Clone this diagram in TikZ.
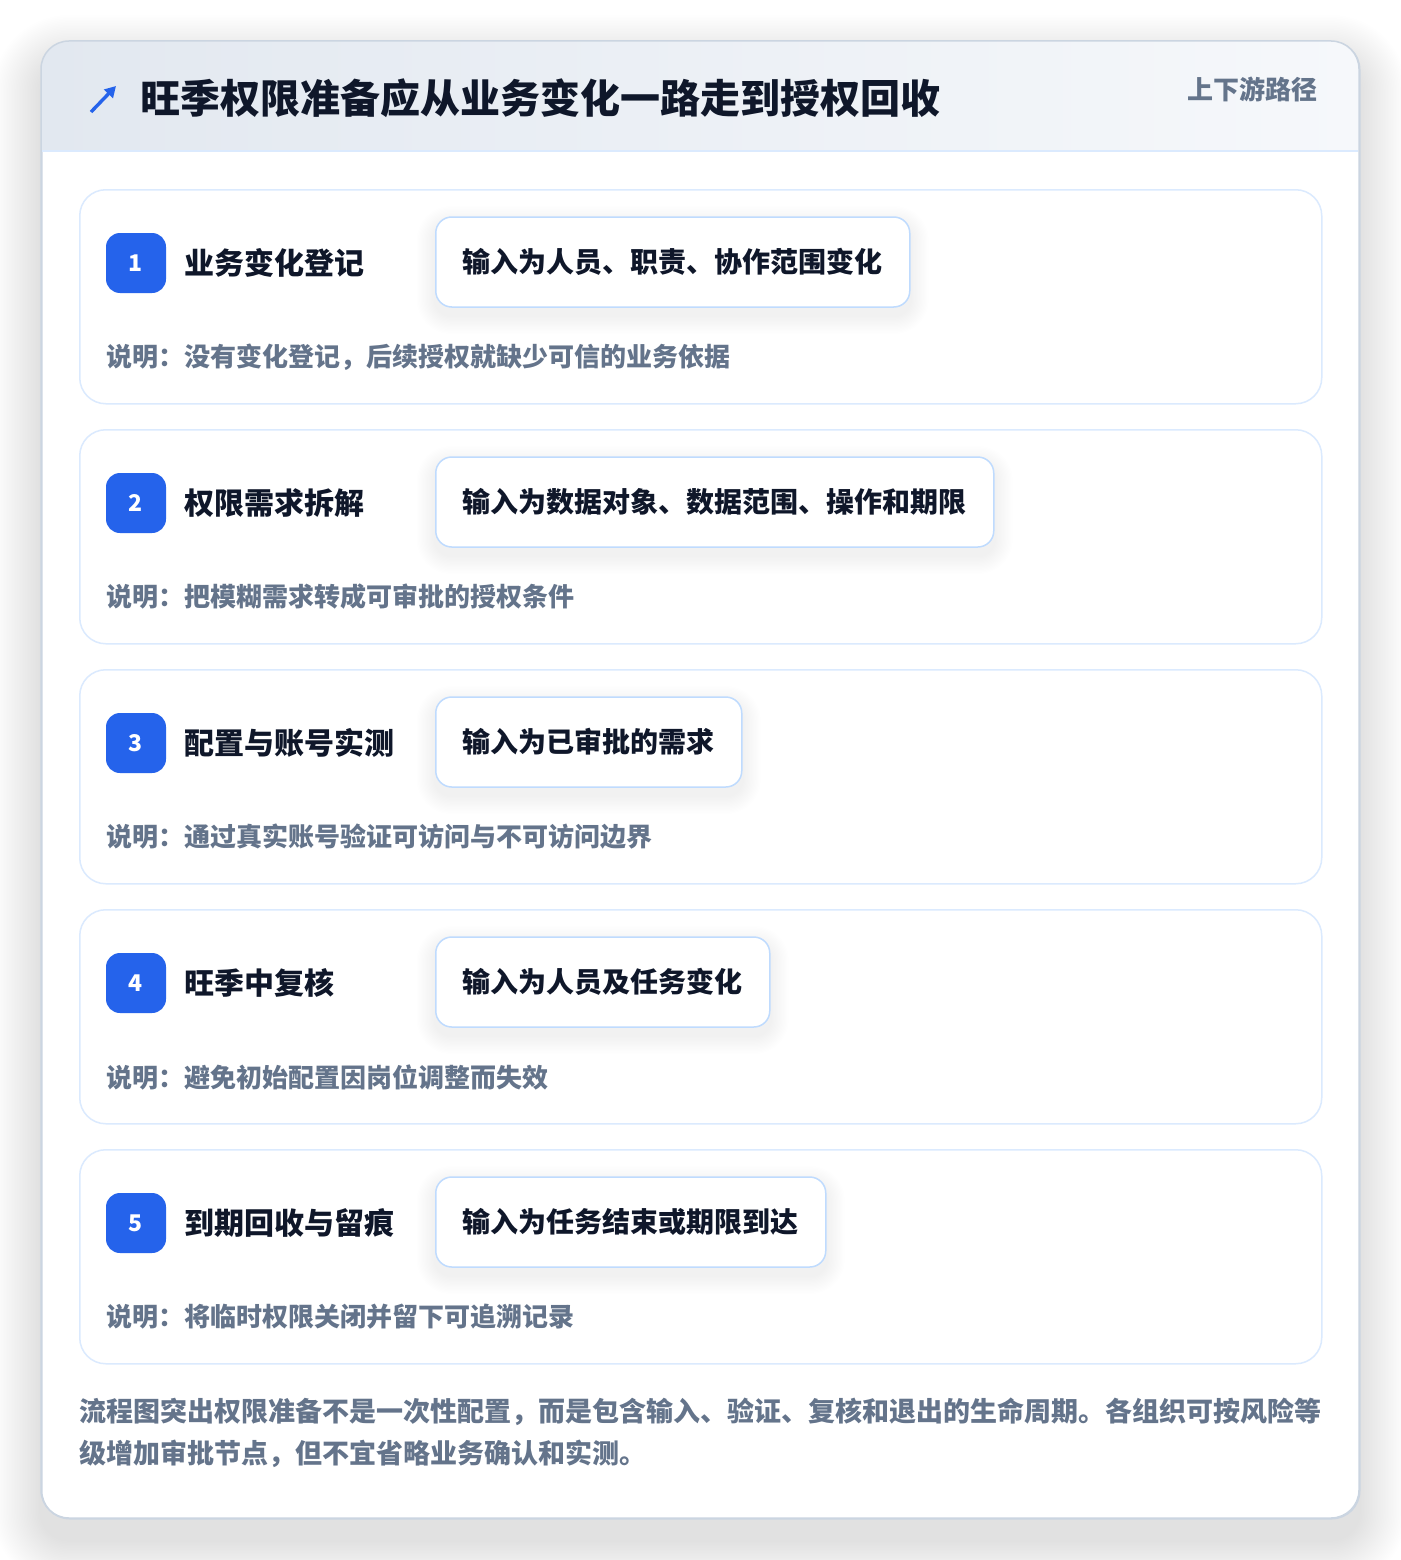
\documentclass[tikz,border=0pt]{standalone}
\usepackage{fontspec}
\setmainfont{Noto Sans CJK SC}
\usetikzlibrary{arrows.meta}
\definecolor{accent}{HTML}{2563EB}
\definecolor{ink}{HTML}{0F172A}
\definecolor{muted}{HTML}{64748B}
\definecolor{outerline}{HTML}{CBD5E1}
\definecolor{cardline}{HTML}{DBEAFE}
\definecolor{boxline}{HTML}{BFDBFE}
\definecolor{headA}{HTML}{E2E8F0}
\definecolor{headB}{HTML}{F6F8FB}
\pgfdeclarelayer{cardlayer}
\pgfdeclarelayer{shadowlayer}
\pgfsetlayers{cardlayer,shadowlayer,main}
\tikzset{
  stepcard/.style={draw=cardline, line width=1.5pt, fill=white, rounded corners=26pt,
    minimum width=1242pt, minimum height=214pt, anchor=north west, inner sep=0pt},
  badge/.style={fill=accent, rounded corners=14pt, minimum width=60pt, minimum height=60pt,
    inner sep=0pt, text=white, font=\fontsize{23}{27}\selectfont\bfseries},
  steptitle/.style={anchor=west, inner sep=0pt, text=ink, font=\fontsize{30}{36}\selectfont\bfseries},
  inputbox/.style={draw=boxline, line width=1.5pt, fill=white, rounded corners=16pt,
    minimum height=90pt, inner xsep=27pt, inner ysep=0pt, anchor=west, text=ink,
    font=\fontsize{28}{34}\selectfont\bfseries},
  desc/.style={anchor=west, inner sep=0pt, text=muted, font=\fontsize{26}{32}\selectfont\bfseries},
}
\begin{document}
\begin{tikzpicture}[x=1pt,y=-1pt]
\useasboundingbox (0,0) rectangle (1400,1560);
\begin{pgfonlayer}{cardlayer}
\fill[white] (0,0) rectangle (1400,1560);
% outer shadow
\foreach \k in {1,...,30}{
  \fill[black, opacity=0.0022, rounded corners={28+1.6*\k}]
    ({41-1.6*\k},{41-1.6*\k+22}) rectangle ({1359+1.6*\k},{1518+1.6*\k+22});
}
\node[draw=outerline, line width=1.5pt, fill=white, rounded corners=28pt, anchor=north west,
  minimum width=1318pt, minimum height=1477pt, inner sep=0pt] (outer) at (41,41) {};
\begin{scope}
  \clip[rounded corners=28pt] (41,41) rectangle (1359,1518);
  \shade[left color=headA, right color=headB] (41,41) rectangle (1359,151);
\end{scope}
\draw[cardline, line width=1.5pt] (42,151) -- (1358,151);
\draw[outerline, line width=1.5pt, rounded corners=28pt] (41,41) rectangle (1359,1518);
\end{pgfonlayer}

% header
\coordinate (arrA) at (91,112);
\coordinate (arrB) at (116,86);
\draw[accent, line width=3.4pt, -{Triangle[length=11pt,width=12pt]}] (arrA) -- (arrB);
\node[anchor=west, inner sep=0pt, text=ink, font=\fontsize{40}{46}\selectfont\bfseries] (title) at (140,98)
  {旺季权限准备应从业务变化一路走到授权回收};
\node[anchor=east, inner sep=0pt, text=muted, font=\fontsize{26}{32}\selectfont\bfseries] (tag) at (1318,89)
  {上下游路径};

% steps
\foreach \n/\ya/\ti/\inp/\de in {
  1/189/业务变化登记/输入为人员、职责、协作范围变化/说明：没有变化登记，后续授权就缺少可信的业务依据,
  2/429/权限需求拆解/输入为数据对象、数据范围、操作和期限/说明：把模糊需求转成可审批的授权条件,
  3/669/配置与账号实测/输入为已审批的需求/说明：通过真实账号验证可访问与不可访问边界,
  4/909/旺季中复核/输入为人员及任务变化/说明：避免初始配置因岗位调整而失效,
  5/1149/到期回收与留痕/输入为任务结束或期限到达/说明：将临时权限关闭并留下可追溯记录}{
  \begin{pgfonlayer}{cardlayer}
    \node[stepcard] (card\n) at (79,\ya) {};
  \end{pgfonlayer}
  \node[badge] (badge\n) at (136,{\ya+74}) {\n};
  \node[steptitle] (title\n) at (184,{\ya+74}) {\ti};
  \node[inputbox] (box\n) at (435,{\ya+73}) {\inp};
  \node[desc] (desc\n) at (106,{\ya+168}) {\de};
  \begin{pgfonlayer}{shadowlayer}
    \foreach \k in {1,...,14}{
      \fill[black, opacity=0.0045, rounded corners={16+1.3*\k}]
        ([shift={({-1.3*\k},{-1.3*\k+8})}]box\n.north west) rectangle
        ([shift={({1.3*\k},{1.3*\k+8})}]box\n.south east);
    }
  \end{pgfonlayer}
}

% footer
\node[anchor=north west, inner sep=0pt, align=left, text=muted,
  font=\fontsize{27}{42}\selectfont\bfseries] (footer) at (79,1398)
  {流程图突出权限准备不是一次性配置，而是包含输入、验证、复核和退出的生命周期。各组织可按风险等\\
   级增加审批节点，但不宜省略业务确认和实测。};
\end{tikzpicture}
\end{document}
